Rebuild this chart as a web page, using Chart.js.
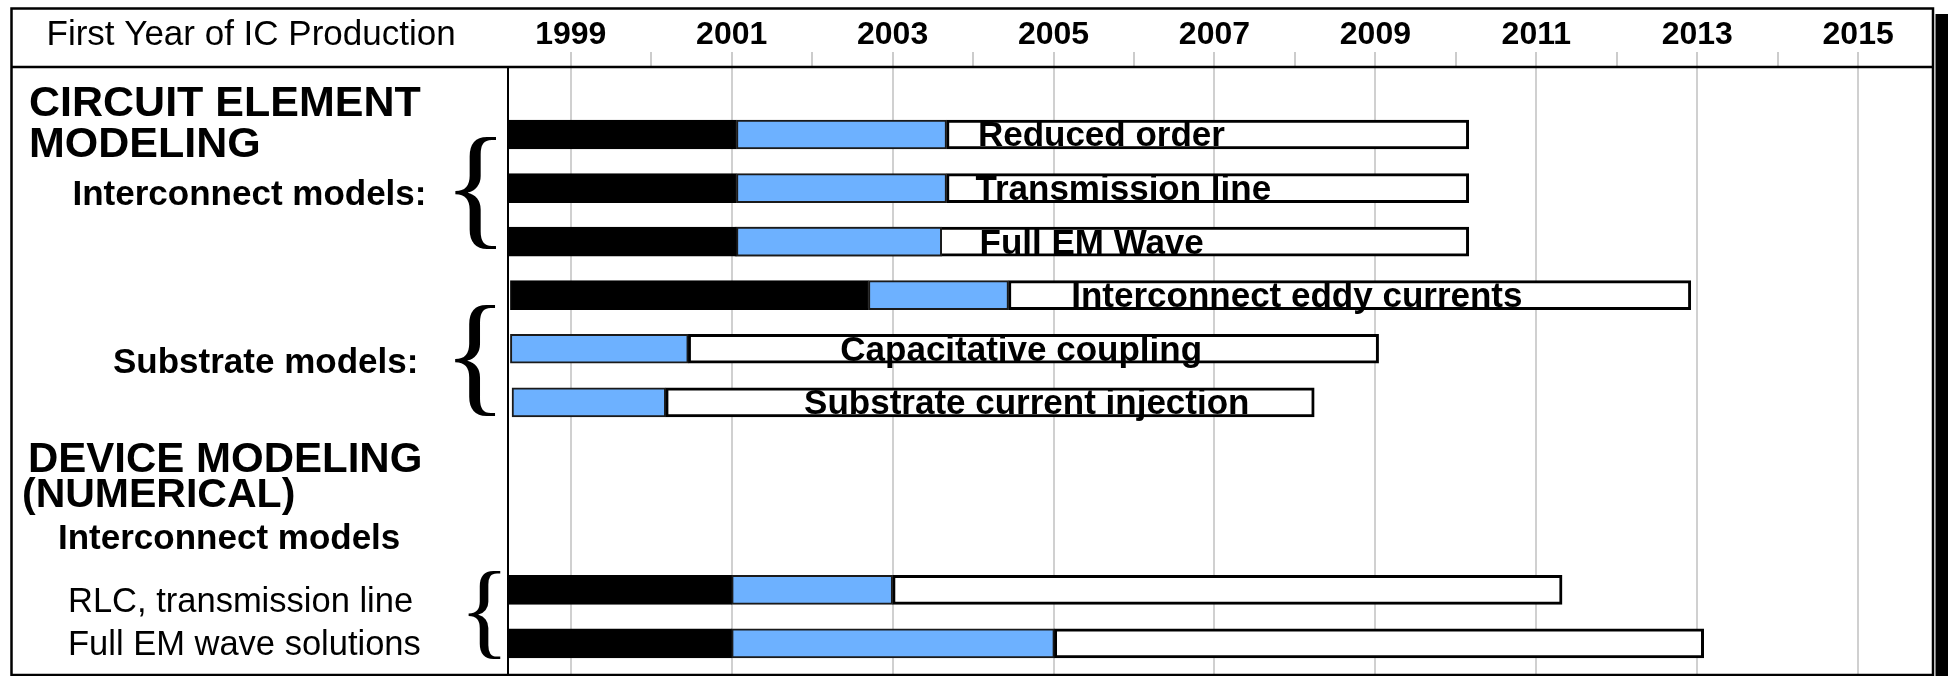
<!DOCTYPE html>
<html>
<head>
<meta charset="utf-8">
<script src="https://cdn.jsdelivr.net/npm/chart.js@4.4.1/dist/chart.umd.min.js"></script>
<style>
  html, body { margin: 0; padding: 0; background: #fff; overflow: hidden; }
  canvas { display: block; }
</style>
</head>
<body>
<canvas id="c" width="1948" height="676"></canvas>
<script>
// ---- categories (rows, blank entries are spacer rows) ----
const rows = ['Reduced order', '', 'Transmission line', '', 'Full EM Wave', '',
  'Interconnect eddy currents', '', 'Capacitative coupling', '', 'Substrate current injection',
  '', '', '', '', '', '', 'RLC, transmission line', '', 'Full EM wave solutions'];
const items = rows.filter(r => r !== '');

// ---- series values (years) ----
const researchStart = [1998.2, 1998.2, 1998.2, 1998.25, null, null, 1998.2, 1998.2];
const researchEnd   = [2001.06, 2001.06, 2001.06, 2002.70, null, null, 2001.0, 2001.0];
const developStart  = [2001.06, 2001.06, 2001.06, 2002.70, 1998.25, 1998.27, 2001.0, 2001.0];
const developEnd    = [2003.67, 2003.67, 2003.61, 2004.44, 2000.46, 2000.18, 2003.0, 2005.01];
const qualifyStart  = [2003.67, 2003.67, 2001.04, 2004.44, 2000.46, 2000.18, 2003.0, 2005.01];
const qualifyEnd    = [2010.16, 2010.16, 2010.16, 2012.92, 2009.04, 2008.24, 2011.32, 2013.08];

// text written on the bars
const barText = ['Reduced order', 'Transmission line', 'Full EM Wave', 'Interconnect eddy currents',
  'Capacitative coupling', 'Substrate current injection', '', ''];
const barTextAt = [2004.06, 2004.03, 2004.08, 2005.22, 2002.35, 2001.90, null, null];

// ---- tick labels ----
const yearLabels = ['1999', '2001', '2003', '2005', '2007', '2009', '2011', '2013', '2015'];
const headerTitle = 'First Year of IC Production';

function segs(s, e) {
  return items.map((name, i) => (s[i] == null ? null : { x: [s[i], e[i]], y: rows.indexOf(name) }))
              .filter(Boolean);
}

const SANS = '"Liberation Sans", Arial, Helvetica, sans-serif';
const SERIF = '"Liberation Serif", "Times New Roman", serif';

const framePlugin = {
  id: 'frame',
  afterDatasetsDraw(chart) {
    const { ctx, scales } = chart;
    const xs = scales.x, ys = scales.y;
    ctx.save();
    ctx.fillStyle = '#000';
    ctx.textAlign = 'left';
    ctx.textBaseline = 'alphabetic';
    ctx.font = `bold 35px ${SANS}`;
    items.forEach((name, i) => {
      if (!barText[i]) return;
      const x = xs.getPixelForValue(barTextAt[i]);
      const y = ys.getPixelForValue(rows.indexOf(name)) + 12;
      ctx.fillText(barText[i], x, y);
    });
    ctx.restore();
  },
  afterDraw(chart) {
    const { ctx, chartArea: ca } = chart;
    ctx.save();
    // outer frame
    ctx.strokeStyle = '#000';
    ctx.lineWidth = 2.5;
    ctx.strokeRect(11.5, 8.5, ca.right - 11.5, 675 - 8.5);
    // shadow on right
    ctx.fillStyle = '#000';
    ctx.fillRect(ca.right + 2.5, 14, 1948 - ca.right - 2.5, 676 - 14);
    // header separator
    ctx.beginPath();
    ctx.moveTo(11.5, ca.top); ctx.lineTo(ca.right, ca.top);
    ctx.stroke();
    // divider
    ctx.lineWidth = 2;
    ctx.beginPath();
    ctx.moveTo(ca.left, ca.top); ctx.lineTo(ca.left, 675);
    ctx.stroke();

    ctx.textAlign = 'left';
    ctx.textBaseline = 'alphabetic';
    ctx.fillStyle = '#000';
    const texts = [
      [headerTitle, 46.5, 45, `35px ${SANS}`],
      ['CIRCUIT ELEMENT', 29, 116, `bold 43px ${SANS}`],
      ['MODELING', 29, 157, `bold 43px ${SANS}`],
      ['Interconnect models:', 72.5, 205, `bold 35px ${SANS}`],
      ['Substrate models:', 113, 373, `bold 35px ${SANS}`],
      ['DEVICE MODELING', 28, 472, `bold 42px ${SANS}`],
      ['(NUMERICAL)', 22, 507, `bold 41px ${SANS}`],
      ['Interconnect models', 58, 549, `bold 35px ${SANS}`],
      [items[6], 68, 612, `34.5px ${SANS}`],
      [items[7], 68, 655, `34.5px ${SANS}`]
    ];
    texts.forEach(([t, x, y, f]) => { ctx.font = f; ctx.fillText(t, x, y); });

    function brace(x, top, bottom) {
      ctx.font = `100px ${SERIF}`;
      const m = ctx.measureText('{');
      const h = m.actualBoundingBoxAscent + m.actualBoundingBoxDescent;
      const size = 100 * (bottom - top) / h;
      ctx.font = `${size}px ${SERIF}`;
      const m2 = ctx.measureText('{');
      ctx.fillText('{', x + m2.actualBoundingBoxLeft, top + m2.actualBoundingBoxAscent);
    }
    brace(455, 136, 249);
    brace(455, 305, 416);
    brace(468, 571, 659);
    ctx.restore();
  }
};

new Chart(document.getElementById('c'), {
  type: 'bar',
  data: {
    datasets: [
      { label: 'Development underway', data: segs(developStart, developEnd),
        backgroundColor: '#6db1ff', borderColor: '#1a1a1a', borderWidth: 2, order: 1 },
      { label: 'Research required', data: segs(researchStart, researchEnd),
        backgroundColor: '#000000', borderColor: '#000000', borderWidth: 1, order: 2 },
      { label: 'Qualification / pre-production', data: segs(qualifyStart, qualifyEnd),
        backgroundColor: '#ffffff', borderColor: '#000000', borderWidth: 3, order: 3 }
    ]
  },
  options: {
    indexAxis: 'y',
    responsive: false,
    animation: false,
    devicePixelRatio: 1,
    layout: { padding: { left: 508, right: 15, top: 8, bottom: 1 } },
    datasets: { bar: { grouped: false, barThickness: 29, borderSkipped: false } },
    scales: {
      x: {
        type: 'linear', position: 'top', bounds: 'data', offset: false,
        min: 1998.22, max: 2015.93,
        afterFit(scale) { scale.height = 59; },
        afterBuildTicks(scale) {
          const t = [];
          for (let v = Math.ceil(scale.min); v <= Math.floor(scale.max); v++) t.push({ value: v });
          scale.ticks = t;
        },
        border: { display: false },
        grid: {
          lineWidth: 2,
          tickLength: 15,
          tickColor: '#cccccc',
          color: (c) => (c.tick && yearLabels.includes(String(c.tick.value)) ? '#d0d0d0' : 'rgba(0,0,0,0)')
        },
        ticks: {
          autoSkip: false, maxRotation: 0, minRotation: 0,
          padding: -2, color: '#000',
          font: { family: SANS, size: 32, weight: 'bold' },
          callback: (v) => (yearLabels.includes(String(v)) ? String(v) : '')
        }
      },
      y: { type: 'linear', reverse: true, bounds: 'data', offset: false,
           min: -2.52, max: 20.18, display: false }
    },
    plugins: { legend: { display: false }, tooltip: { enabled: false } }
  },
  plugins: [framePlugin]
});
</script>
</body>
</html>
